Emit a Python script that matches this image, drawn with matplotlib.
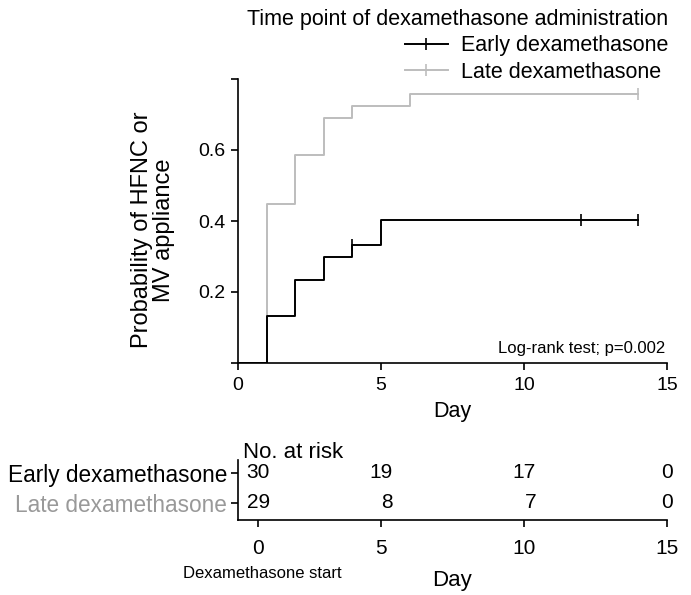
import matplotlib
matplotlib.use('Agg')
import matplotlib.pyplot as plt
from matplotlib.lines import Line2D

plt.rcParams['font.family'] = ['Liberation Sans', 'DejaVu Sans']

# Kaplan-Meier style cumulative incidence
early_days = [0, 1, 2, 3, 4, 5, 14]
early_prob = [0, 0.133, 0.233, 0.300, 0.333, 0.404, 0.404]
early_censor_days = [4, 12, 14]
early_censor_prob = [0.333, 0.404, 0.404]

late_days = [0, 1, 2, 3, 4, 6, 14]
late_prob = [0, 0.448, 0.586, 0.690, 0.724, 0.759, 0.759]
late_censor_days = [14]
late_censor_prob = [0.759]

# number at risk table
risk_days = [0, 5, 10, 15]
risk_early = [30, 19, 17, 0]
risk_late = [29, 8, 7, 0]
groups = ['Early dexamethasone', 'Late dexamethasone']

early_col = 'black'
late_col = '#bdbdbd'
late_txt = '#999999'

fig = plt.figure(figsize=(6.91, 5.95), dpi=100)
W, H = 691, 595

# main plot
ax = fig.add_axes([238 / W, 1 - 363 / H, 429 / W, 284 / H])
ax.step(late_days, late_prob, where='post', color=late_col, lw=1.4)
ax.plot(late_censor_days, late_censor_prob, ls='none', marker='|', ms=9, mew=1.2, color=late_col)
ax.step(early_days, early_prob, where='post', color=early_col, lw=1.4)
ax.plot(early_censor_days, early_censor_prob, ls='none', marker='|', ms=9, mew=1.2, color=early_col)

ax.set_xlim(0, 15)
ax.set_ylim(0, 0.8)
ax.set_xticks([0, 5, 10, 15])
ax.set_yticks([0, 0.2, 0.4, 0.6, 0.8])
ax.set_yticklabels(['', '0.2', '0.4', '0.6', ''])
ax.tick_params(axis='both', labelsize=14, length=5, width=1.2, pad=4)
ax.tick_params(axis='x', pad=5)
for s in ['top', 'right']:
    ax.spines[s].set_visible(False)
for s in ['left', 'bottom']:
    ax.spines[s].set_linewidth(1.2)
ax.set_xlabel('Day', fontsize=15.5, labelpad=5)
fig.text(153 / W, 1 - 230 / H, 'Probability of HFNC or\nMV appliance', rotation=90,
         ha='center', va='center', fontsize=17, linespacing=0.95)
ax.text(0.995, 0.05, 'Log-rank test; p=0.002', transform=ax.transAxes,
        ha='right', va='center', fontsize=12)

# legend
handles = [Line2D([], [], color=early_col, lw=1.4, marker='|', ms=9, mew=1.2),
           Line2D([], [], color=late_col, lw=1.4, marker='|', ms=9, mew=1.2)]
leg = fig.legend(handles, groups, loc='upper right', bbox_to_anchor=(668 / W, 1 - 9 / H),
                 title='Time point of dexamethasone administration', title_fontsize=15.5,
                 fontsize=15.5, frameon=False, alignment='right', borderpad=0,
                 labelspacing=0.25, handlelength=2.0, handletextpad=0.6, borderaxespad=0)

# number at risk table
at = fig.add_axes([238 / W, 1 - 520 / H, 429 / W, 60 / H])
at.set_xlim(0, 15)
at.set_ylim(-0.57, 1.43)
tick_pos = [max(d, 0.7) for d in risk_days]
at.set_xticks(tick_pos)
at.set_xticklabels([str(d) for d in risk_days])
at.set_yticks([1, 0])
at.set_yticklabels(groups)
at.get_yticklabels()[1].set_color(late_txt)
at.tick_params(axis='x', labelsize=15, length=5, width=1.2, pad=9)
at.tick_params(axis='y', labelsize=16.3, length=5, width=1.2, pad=3)
for s in ['top', 'right']:
    at.spines[s].set_visible(False)
for s in ['left', 'bottom']:
    at.spines[s].set_linewidth(1.2)
num_x = [p + 0.42 for p in tick_pos]
num_x[-1] = 15.2
for x, e, l in zip(num_x, risk_early, risk_late):
    at.text(x, 1, str(e), ha='right', va='center', fontsize=15)
    at.text(x, 0, str(l), ha='right', va='center', fontsize=15)
at.set_xlabel('Day', fontsize=16, labelpad=8)
fig.text(243 / W, 1 - 453 / H, 'No. at risk', ha='left', va='center', fontsize=16)
fig.text(262 / W, 1 - 573 / H, 'Dexamethasone start', ha='center', va='center', fontsize=12)

fig.savefig('out.png', dpi=100)
